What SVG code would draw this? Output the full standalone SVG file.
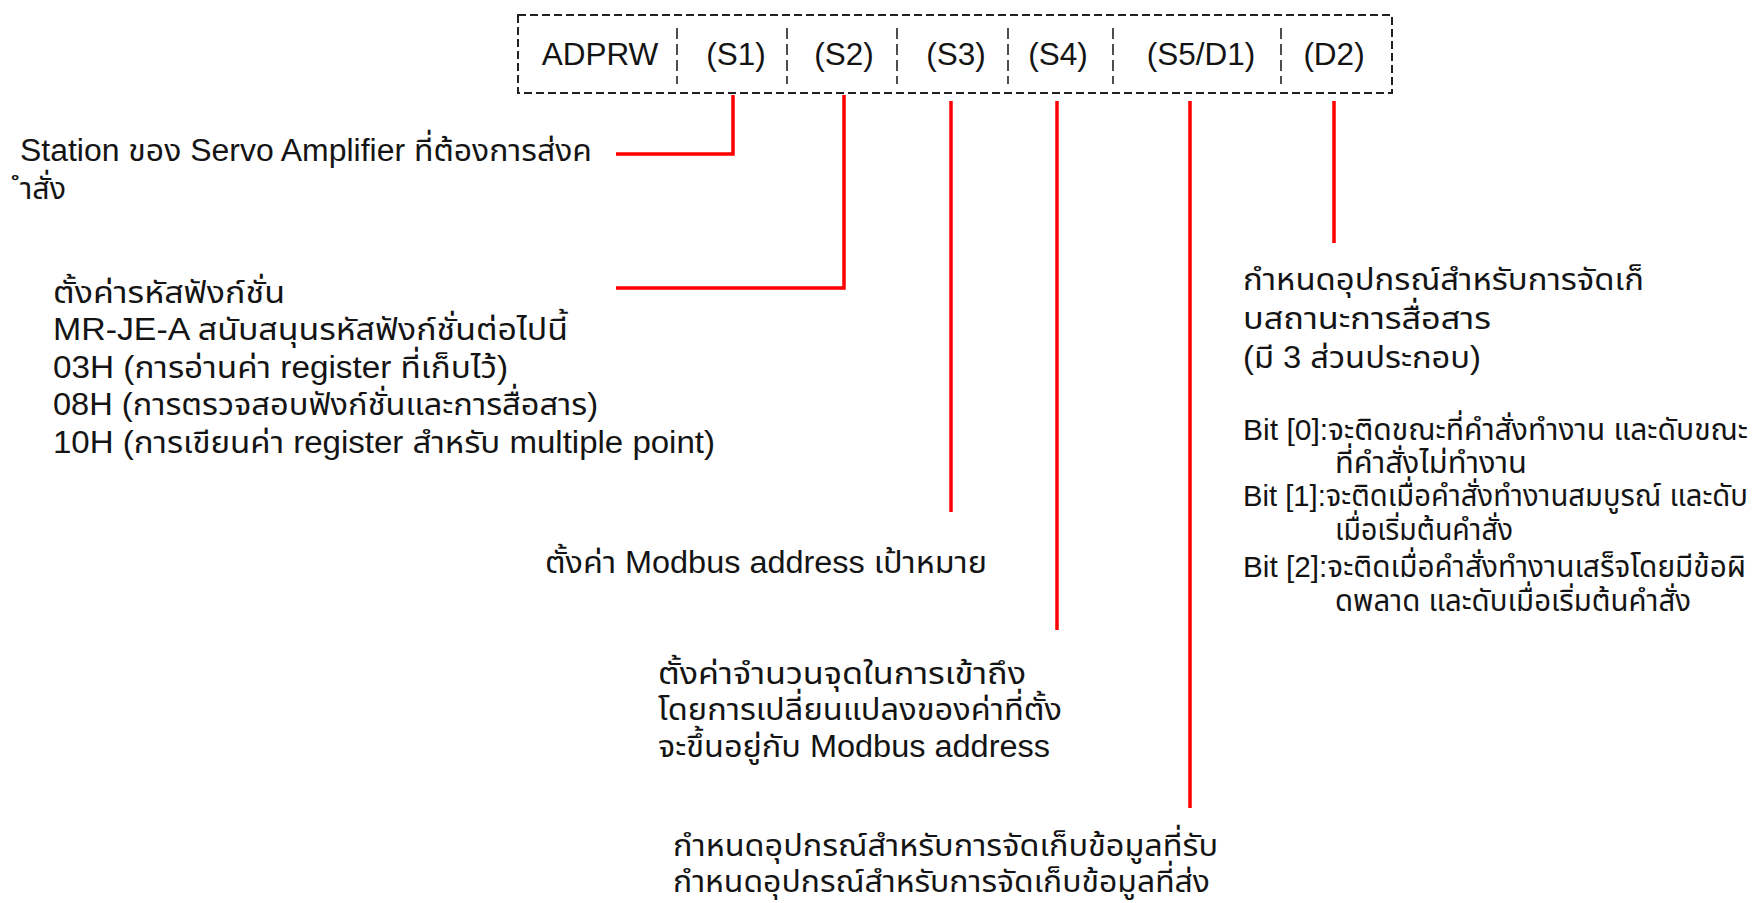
<svg xmlns="http://www.w3.org/2000/svg" width="1764" height="903" viewBox="0 0 1764 903">
  <style>
    .t { font-family: "Liberation Sans", "Noto Sans", "Noto Sans Thai", "DejaVu Sans", sans-serif; font-size: 31px; fill: #141414; }
    .b { font-size: 29.5px; }
    .cell { font-family: "Liberation Sans", "Noto Sans", sans-serif; font-size: 31.5px; fill: #141414; text-anchor: middle; }
    .frame { fill: none; stroke: #222; stroke-width: 2; stroke-dasharray: 8 4; }
    .sep { fill: none; stroke: #222; stroke-width: 1.6; stroke-dasharray: 11 5; }
    .lead { fill: none; stroke: #ff0000; stroke-width: 3.5; }
  </style>

  <!-- instruction format row -->
  <g id="instruction">
    <rect class="frame" x="518" y="15" width="874" height="78"/>
    <line class="sep" x1="677" y1="28" x2="677" y2="84"/>
    <line class="sep" x1="787" y1="28" x2="787" y2="84"/>
    <line class="sep" x1="897" y1="28" x2="897" y2="84"/>
    <line class="sep" x1="1008" y1="28" x2="1008" y2="84"/>
    <line class="sep" x1="1113" y1="28" x2="1113" y2="84"/>
    <line class="sep" x1="1281" y1="28" x2="1281" y2="84"/>
    <text class="cell" x="600" y="65">ADPRW</text>
    <text class="cell" x="736" y="65">(S1)</text>
    <text class="cell" x="844" y="65">(S2)</text>
    <text class="cell" x="956" y="65">(S3)</text>
    <text class="cell" x="1058" y="65">(S4)</text>
    <text class="cell" x="1201" y="65">(S5/D1)</text>
    <text class="cell" x="1334" y="65">(D2)</text>
  </g>

  <!-- leader lines -->
  <g id="connectors">
    <polyline class="lead" points="616,154 733,154 733,95"/>
    <polyline class="lead" points="616,288 844,288 844,95"/>
    <line class="lead" x1="951" y1="101" x2="951" y2="512"/>
    <line class="lead" x1="1057" y1="101" x2="1057" y2="630"/>
    <line class="lead" x1="1190" y1="101" x2="1190" y2="808"/>
    <line class="lead" x1="1334" y1="101" x2="1334" y2="243"/>
  </g>

  <g id="s1-note">
    <text class="t" x="20" y="161" textLength="572" lengthAdjust="spacingAndGlyphs">Station ของ Servo Amplifier ที่ต้องการส่งค</text>
    <text class="t" x="20" y="199" textLength="46" lengthAdjust="spacingAndGlyphs">ำสั่ง</text>
  </g>

  <g id="s2-note">
    <text class="t" x="53" y="303" textLength="232" lengthAdjust="spacingAndGlyphs">ตั้งค่ารหัสฟังก์ชั่น</text>
    <text class="t" x="53" y="340" textLength="515" lengthAdjust="spacingAndGlyphs">MR-JE-A สนับสนุนรหัสฟังก์ชั่นต่อไปนี้</text>
    <text class="t" x="53" y="378" textLength="455" lengthAdjust="spacingAndGlyphs">03H (การอ่านค่า register ที่เก็บไว้)</text>
    <text class="t" x="53" y="415" textLength="545" lengthAdjust="spacingAndGlyphs">08H (การตรวจสอบฟังก์ชั่นและการสื่อสาร)</text>
    <text class="t" x="53" y="453" textLength="662" lengthAdjust="spacingAndGlyphs">10H (การเขียนค่า register สำหรับ multiple point)</text>
  </g>

  <g id="s3-note">
    <text class="t" x="545" y="573" textLength="442" lengthAdjust="spacingAndGlyphs">ตั้งค่า Modbus address เป้าหมาย</text>
  </g>

  <g id="s4-note">
    <text class="t" x="658" y="684" textLength="368" lengthAdjust="spacingAndGlyphs">ตั้งค่าจำนวนจุดในการเข้าถึง</text>
    <text class="t" x="658" y="720" textLength="404" lengthAdjust="spacingAndGlyphs">โดยการเปลี่ยนแปลงของค่าที่ตั้ง</text>
    <text class="t" x="658" y="757" textLength="392" lengthAdjust="spacingAndGlyphs">จะขึ้นอยู่กับ Modbus address</text>
  </g>

  <g id="s5-note">
    <text class="t" x="673" y="856" textLength="545" lengthAdjust="spacingAndGlyphs">กำหนดอุปกรณ์สำหรับการจัดเก็บข้อมูลที่รับ</text>
    <text class="t" x="673" y="892" textLength="537" lengthAdjust="spacingAndGlyphs">กำหนดอุปกรณ์สำหรับการจัดเก็บข้อมูลที่ส่ง</text>
  </g>

  <g id="d2-note">
    <text class="t" x="1243" y="290" textLength="401" lengthAdjust="spacingAndGlyphs">กำหนดอุปกรณ์สำหรับการจัดเก็</text>
    <text class="t" x="1243" y="329" textLength="248" lengthAdjust="spacingAndGlyphs">บสถานะการสื่อสาร</text>
    <text class="t" x="1243" y="368" textLength="238" lengthAdjust="spacingAndGlyphs">(มี 3 ส่วนประกอบ)</text>
    <text class="t b" x="1243" y="440" textLength="505" lengthAdjust="spacingAndGlyphs">Bit [0]:จะติดขณะที่คำสั่งทำงาน และดับขณะ</text>
    <text class="t b" x="1335" y="473" textLength="192" lengthAdjust="spacingAndGlyphs">ที่คำสั่งไม่ทำงาน</text>
    <text class="t b" x="1243" y="506" textLength="505" lengthAdjust="spacingAndGlyphs">Bit [1]:จะติดเมื่อคำสั่งทำงานสมบูรณ์ และดับ</text>
    <text class="t b" x="1335" y="540" textLength="178" lengthAdjust="spacingAndGlyphs">เมื่อเริ่มต้นคำสั่ง</text>
    <text class="t b" x="1243" y="577" textLength="503" lengthAdjust="spacingAndGlyphs">Bit [2]:จะติดเมื่อคำสั่งทำงานเสร็จโดยมีข้อผิ</text>
    <text class="t b" x="1335" y="611" textLength="356" lengthAdjust="spacingAndGlyphs">ดพลาด และดับเมื่อเริ่มต้นคำสั่ง</text>
  </g>
</svg>
